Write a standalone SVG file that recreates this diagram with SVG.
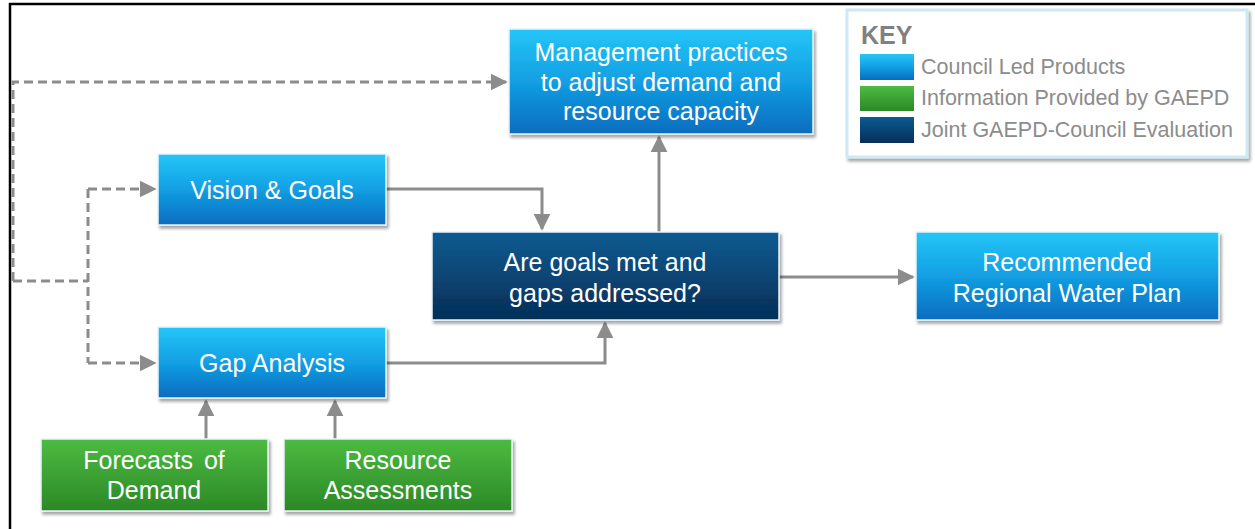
<svg xmlns="http://www.w3.org/2000/svg" width="1255" height="529" viewBox="0 0 1255 529">
<defs>
<linearGradient id="gBlue" x1="0" y1="0" x2="0" y2="1"><stop offset="0" stop-color="#25c6f8"/><stop offset="0.5" stop-color="#129fe3"/><stop offset="1" stop-color="#0a6cbe"/></linearGradient>
<linearGradient id="gGreen" x1="0" y1="0" x2="0" y2="1"><stop offset="0" stop-color="#4dbb41"/><stop offset="1" stop-color="#2b8826"/></linearGradient>
<linearGradient id="gNavy" x1="0" y1="0" x2="0" y2="1"><stop offset="0" stop-color="#0b5b91"/><stop offset="1" stop-color="#052f57"/></linearGradient>
<filter id="sh" x="-10%" y="-10%" width="125%" height="135%"><feDropShadow dx="2" dy="3" stdDeviation="1.5" flood-color="#000" flood-opacity="0.35"/></filter>
<marker id="ah" viewBox="0 0 10 10" refX="9" refY="5" markerWidth="5.7" markerHeight="5.7" orient="auto" markerUnits="strokeWidth"><path d="M0,0 L10,5 L0,10 z" fill="#8c8c8c"/></marker>
<style>
.box{stroke:#e8f4fb;stroke-width:1.5;filter:url(#sh)}
.blue{fill:url(#gBlue)}
.green{fill:url(#gGreen)}
.navy{fill:url(#gNavy)}
.t{font-family:"Liberation Sans",Arial,sans-serif;font-size:25px;fill:#fff;text-anchor:middle}
.c{fill:none;stroke:#8c8c8c;stroke-width:3}
.d{stroke-dasharray:9 5}
.k{font-family:"Liberation Sans",Arial,sans-serif;font-size:21.5px;fill:#8c8c8c}
</style>
</defs>
<rect width="1255" height="529" fill="#fff"/>
<path d="M10,529 V4 H1255" fill="none" stroke="#000" stroke-width="2.5"/>

<g id="connectors">
<path class="c d" d="M13,281 V82 H506" marker-end="url(#ah)"/>
<path class="c d" d="M13,281 H88"/>
<path class="c d" d="M88,189 V363"/>
<path class="c d" d="M88,189 H155" marker-end="url(#ah)"/>
<path class="c d" d="M88,363 H155" marker-end="url(#ah)"/>
<path class="c" d="M386,189 H542 V229" marker-end="url(#ah)"/>
<path class="c" d="M386,363 H605 V323" marker-end="url(#ah)"/>
<path class="c" d="M659,232 V137" marker-end="url(#ah)"/>
<path class="c" d="M779,277 H913" marker-end="url(#ah)"/>
<path class="c" d="M206,439 V401" marker-end="url(#ah)"/>
<path class="c" d="M335,439 V401" marker-end="url(#ah)"/>
</g>

<g id="management">
<rect class="box blue" x="509" y="29" width="304" height="105"/>
<text class="t" x="661" y="61">Management practices</text>
<text class="t" x="661" y="91">to adjust demand and</text>
<text class="t" x="661" y="120">resource capacity</text>
</g>
<g id="vision">
<rect class="box blue" x="158" y="154" width="228" height="71"/>
<text class="t" x="272" y="199">Vision &amp; Goals</text>
</g>
<g id="gap">
<rect class="box blue" x="158" y="327" width="228" height="71"/>
<text class="t" x="272" y="372">Gap Analysis</text>
</g>
<g id="goals">
<rect class="box navy" x="432" y="232" width="347" height="88"/>
<text class="t" x="605" y="271">Are goals met and</text>
<text class="t" x="605" y="302">gaps addressed?</text>
</g>
<g id="recommended">
<rect class="box blue" x="916" y="232" width="303" height="88"/>
<text class="t" x="1067" y="271">Recommended</text>
<text class="t" x="1067" y="302">Regional Water Plan</text>
</g>
<g id="forecasts">
<rect class="box green" x="41" y="439" width="227" height="72"/>
<text class="t" x="154" y="469" word-spacing="4">Forecasts of</text>
<text class="t" x="154" y="499">Demand</text>
</g>
<g id="resource">
<rect class="box green" x="284" y="439" width="228" height="72"/>
<text class="t" x="398" y="469">Resource</text>
<text class="t" x="398" y="499">Assessments</text>
</g>

<g id="key">
<rect x="847" y="10" width="400" height="147" fill="#fff" stroke="#cde9f6" stroke-width="3" filter="url(#sh)"/>
<text x="861" y="44" font-family="Liberation Sans,Arial,sans-serif" font-size="25" font-weight="bold" fill="#808080">KEY</text>
<rect x="860" y="54" width="54" height="26" fill="url(#gBlue)"/>
<rect x="860" y="86" width="54" height="25" fill="url(#gGreen)"/>
<rect x="860" y="117" width="54" height="26" fill="url(#gNavy)"/>
<text class="k" x="921" y="74">Council Led Products</text>
<text class="k" x="921" y="105">Information Provided by GAEPD</text>
<text class="k" x="921" y="137">Joint GAEPD-Council Evaluation</text>
</g>
</svg>
